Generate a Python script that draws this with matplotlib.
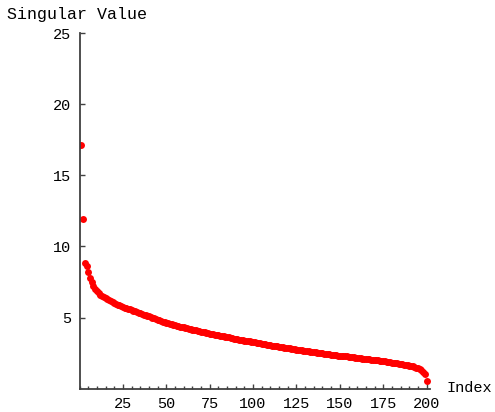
import numpy as np
import matplotlib
matplotlib.use('Agg')
import matplotlib.pyplot as plt
from matplotlib.ticker import MultipleLocator

# singular values, index 1..200
sv_1_50 = [17.1, 11.95, 8.85, 8.62, 8.2, 7.8, 7.48, 7.22, 7.02, 6.86,
           6.73, 6.62, 6.52, 6.43, 6.35, 6.28, 6.21, 6.14, 6.08, 6.02,
           5.96, 5.90, 5.85, 5.80, 5.75, 5.70, 5.65, 5.61, 5.57, 5.53,
           5.48, 5.44, 5.39, 5.35, 5.30, 5.26, 5.21, 5.17, 5.12, 5.08,
           5.03, 4.99, 4.94, 4.90, 4.85, 4.81, 4.76, 4.72, 4.67, 4.63]
sv_51_100 = [4.60, 4.56, 4.53, 4.50, 4.47, 4.43, 4.40, 4.37, 4.34, 4.31,
             4.28, 4.25, 4.22, 4.19, 4.16, 4.13, 4.10, 4.07, 4.04, 4.01,
             3.99, 3.96, 3.93, 3.90, 3.87, 3.85, 3.82, 3.80, 3.77, 3.75,
             3.72, 3.70, 3.67, 3.65, 3.62, 3.60, 3.57, 3.55, 3.52, 3.50,
             3.48, 3.45, 3.43, 3.41, 3.38, 3.36, 3.34, 3.32, 3.29, 3.27]
sv_101_150 = [3.25, 3.23, 3.20, 3.18, 3.16, 3.14, 3.12, 3.10, 3.08, 3.05,
              3.03, 3.01, 2.99, 2.97, 2.95, 2.93, 2.91, 2.89, 2.87, 2.85,
              2.83, 2.81, 2.79, 2.77, 2.75, 2.73, 2.71, 2.69, 2.67, 2.65,
              2.63, 2.62, 2.60, 2.58, 2.57, 2.55, 2.53, 2.52, 2.50, 2.48,
              2.47, 2.45, 2.43, 2.42, 2.40, 2.38, 2.37, 2.35, 2.33, 2.32]
sv_151_200 = [2.31, 2.30, 2.28, 2.27, 2.25, 2.24, 2.22, 2.21, 2.19, 2.17,
              2.15, 2.14, 2.12, 2.11, 2.09, 2.08, 2.06, 2.05, 2.03, 2.02,
              2.00, 1.99, 1.97, 1.95, 1.94, 1.92, 1.90, 1.88, 1.86, 1.84,
              1.82, 1.80, 1.78, 1.76, 1.74, 1.72, 1.70, 1.67, 1.65, 1.62,
              1.59, 1.56, 1.52, 1.48, 1.44, 1.38, 1.31, 1.20, 1.02, 0.55]

values = sv_1_50 + sv_51_100 + sv_101_150 + sv_151_200
index = list(range(1, len(values) + 1))

x_ticks = [25, 50, 75, 100, 125, 150, 175, 200]
y_ticks = [5, 10, 15, 20, 25]

font = 'Liberation Mono'
axis_col = '#404040'

fig = plt.figure(figsize=(4.95, 4.12), dpi=100)
ax = fig.add_axes([0.1608, 0.0566, 0.708, 0.863])

ax.plot(index, values, 'o', color='red', markersize=5, markeredgewidth=0)

ax.set_xlim(0, 202)
ax.set_ylim(0, 25)
ax.spines['top'].set_visible(False)
ax.spines['right'].set_visible(False)
for s in ['left', 'bottom']:
    ax.spines[s].set_color(axis_col)
    ax.spines[s].set_linewidth(1.3)

ax.set_xticks(x_ticks)
ax.set_yticks(y_ticks)
ax.xaxis.set_minor_locator(MultipleLocator(5))
ax.tick_params(axis='both', which='major', direction='in', length=3.5, width=1, color=axis_col, labelsize=11)
ax.tick_params(axis='x', which='minor', direction='in', length=2, width=1, color=axis_col)
ax.tick_params(axis='x', which='major', pad=6)
ax.tick_params(axis='y', which='major', pad=6)
for lab in ax.get_xticklabels() + ax.get_yticklabels():
    lab.set_family(font)

fig.text(7 / 495, 1 - 14 / 412, 'Singular Value', family=font, fontsize=12, va='center', ha='left')
fig.text(446 / 495, 1 - 388 / 412, 'Index', family=font, fontsize=11, va='center', ha='left')

fig.savefig('out.png', dpi=100)
